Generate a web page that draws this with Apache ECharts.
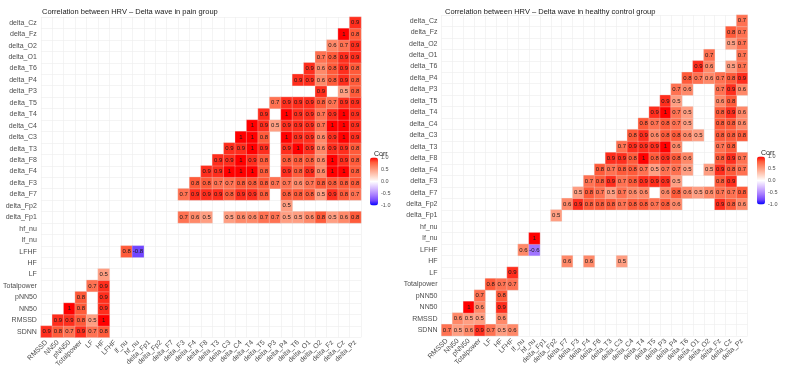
<!DOCTYPE html>
<html><head><meta charset="utf-8">
<script src="https://cdn.jsdelivr.net/npm/echarts@6/dist/echarts.min.js"></script>
<style>html,body{margin:0;padding:0;background:#fff}#c{width:787px;height:373px}</style>
</head><body><div id="c"></div>
<script>
// Variables in matrix order
const variables = ['SDNN','RMSSD','NN50','pNN50','Totalpower','LF','HF','LFHF','lf_nu','hf_nu',
  'delta_Fp1','delta_Fp2','delta_F7','delta_F3','delta_F4','delta_F8','delta_T3','delta_C3','delta_C4',
  'delta_T4','delta_T5','delta_P3','delta_P4','delta_T6','delta_O1','delta_O2','delta_Fz','delta_Cz','delta_Pz'];
const xLabels = variables.slice(1);      // columns
const yLabels = variables.slice(0, 28);  // rows

const titles = ['Correlation between HRV \u2013 Delta wave in pain group',
                'Correlation between HRV \u2013 Delta wave in healthy control group'];
const legendTicks = ['1.0', '0.5', '0.0', '-0.5', '-1.0'];

// Each row i lists correlations for columns starting at column i (null = not significant / blank)
const painRows = [
  [0.9,0.8,0.7,0.9,0.7,0.8],                         // SDNN
  [0.9,0.9,0.8,0.5,1],                               // RMSSD
  [1,0.8,null,0.9],                                  // NN50
  [0.8,null,0.9],                                    // pNN50
  [0.7,0.9],                                         // Totalpower
  [0.5],                                             // LF
  [],                                                // HF
  [0.8,-0.8],                                        // LFHF
  [],                                                // lf_nu
  [],                                                // hf_nu
  [null,null,0.7,0.6,0.5,null,0.5,0.6,0.6,0.7,0.7,0.5,0.5,0.6,0.8,0.5,0.6,0.8], // delta_Fp1
  [null,null,null,null,null,null,null,null,null,null,0.5],                     // delta_Fp2
  [0.7,0.9,0.9,0.9,0.8,0.9,0.9,0.8,null,0.8,0.8,0.8,0.5,0.9,0.8,0.7],           // delta_F7
  [0.8,0.8,0.7,0.7,0.8,0.8,0.8,0.7,0.7,0.6,0.7,0.8,0.8,0.8,0.8],               // delta_F3
  [0.9,0.9,1,1,1,0.8,null,0.9,0.8,0.9,0.6,1,1,0.8],                             // delta_F4
  [0.9,0.9,1,0.9,0.8,null,0.8,0.8,0.8,0.6,1,0.9,0.8],                           // delta_F8
  [0.9,0.9,1,0.9,null,0.9,1,0.9,0.6,0.9,0.9,0.8],                               // delta_T3
  [1,1,0.8,null,1,0.9,0.9,0.6,0.9,1,0.9],                                       // delta_C3
  [1,0.9,0.5,0.9,0.9,0.9,0.7,1,1,0.9],                                          // delta_C4
  [0.9,null,1,0.9,0.9,0.7,0.9,1,0.9],                                           // delta_T4
  [0.7,0.9,0.9,0.9,0.8,0.7,0.9,0.9],                                            // delta_T5
  [null,null,null,0.9,null,0.5,0.8],                                            // delta_P3
  [0.9,0.9,0.6,0.8,0.9,0.8],                                                    // delta_P4
  [0.9,0.6,0.8,0.9,0.8],                                                        // delta_T6
  [0.7,0.8,0.9,0.9],                                                            // delta_O1
  [0.6,0.7,0.9],                                                                // delta_O2
  [1,0.8],                                                                      // delta_Fz
  [0.9]                                                                         // delta_Cz
];

const healthyRows = [
  [0.7,0.5,0.6,0.9,0.7,0.5,0.6],                     // SDNN
  [0.6,0.5,0.5,null,0.6],                            // RMSSD
  [1,0.6,null,0.9],                                  // NN50
  [0.7,null,0.8],                                    // pNN50
  [0.8,0.7,0.7],                                     // Totalpower
  [null,0.9],                                        // LF
  [null,null,null,null,null,0.6,null,0.6,null,null,0.5], // HF
  [0.6,-0.6],                                        // LFHF
  [1],                                               // lf_nu
  [],                                                // hf_nu
  [0.5],                                             // delta_Fp1
  [0.6,0.9,0.8,0.8,0.8,0.7,0.8,0.8,0.7,0.8,0.6,null,null,null,0.9,0.8,0.6],     // delta_Fp2
  [0.5,0.8,0.7,0.5,0.7,0.6,0.6,null,0.6,0.8,0.6,0.5,0.6,0.7,0.7,0.8],           // delta_F7
  [0.7,0.8,0.9,0.7,0.8,0.9,0.9,0.9,0.5,null,null,null,0.8,0.9],                 // delta_F3
  [0.8,0.7,0.8,0.8,0.7,0.5,0.7,0.7,0.5,null,0.5,0.9,0.8,0.7],                   // delta_F4
  [0.9,0.9,0.8,1,0.8,0.9,0.8,0.6,null,null,0.8,0.9,0.7],                        // delta_F8
  [0.7,0.9,0.9,0.9,1,0.6,null,null,null,0.7,0.8],                               // delta_T3
  [0.8,0.9,0.6,0.8,0.8,0.6,0.5,null,0.8,0.8,0.8],                               // delta_C3
  [0.8,0.7,0.8,0.7,0.5,null,null,0.8,0.8,0.6],                                  // delta_C4
  [0.9,1,0.7,0.5,null,null,0.8,0.9,0.6],                                        // delta_T4
  [0.9,0.5,null,null,null,0.6,0.8],                                             // delta_T5
  [0.7,0.6,null,null,0.7,0.9,0.6],                                              // delta_P3
  [0.8,0.7,0.6,0.7,0.8,0.9],                                                    // delta_P4
  [0.9,0.6,null,0.5,0.7],                                                       // delta_T6
  [0.7,null,null,0.7],                                                          // delta_O1
  [null,0.5,0.7],                                                               // delta_O2
  [0.8,0.7],                                                                    // delta_Fz
  [0.7]                                                                         // delta_Cz
];

function toCells(rows) {
  const out = [];
  rows.forEach((row, i) => row.forEach((v, k) => { if (v !== null) out.push([i + k, i, v]); }));
  return out;
}

const FONT = '"Liberation Sans", Arial, sans-serif';
const corrColors = ['#0000FF','#7145FF','#A074FF','#C4A2FF','#E3D0FF','#FFFFFF',
                    '#FFD9CB','#FFB29A','#FF8969','#FF5B3A','#FF0000'];

const grids = [
  {left: 39, top: 17, width: 322, height: 320.4},
  {left: 441.5, top: 15, width: 306, height: 320.8}
];

function xAxisFor(idx) {
  return {
    type: 'category', gridIndex: idx, data: xLabels,
    axisLine: {show: false}, axisTick: {show: false},
    axisLabel: {interval: 0, rotate: 45, fontSize: 7, color: '#4d4d4d', margin: 4, fontFamily: FONT},
    splitLine: {show: true, lineStyle: {color: '#ececec', width: 0.6}}
  };
}
function yAxisFor(idx) {
  return {
    type: 'category', gridIndex: idx, data: yLabels,
    axisLine: {show: false}, axisTick: {show: false},
    axisLabel: {interval: 0, fontSize: 7, color: '#4d4d4d', margin: 4, fontFamily: FONT},
    splitLine: {show: true, lineStyle: {color: '#ececec', width: 0.6}}
  };
}
function seriesFor(idx, rows) {
  return {
    type: 'heatmap', xAxisIndex: idx, yAxisIndex: idx, data: toCells(rows),
    itemStyle: {borderColor: '#e6e6e6', borderWidth: 0.3},
    label: {show: true, fontSize: 6, color: '#1a1a1a', fontFamily: FONT,
            formatter: p => String(p.value[2])},
    emphasis: {disabled: true}
  };
}
function legendLabels(x, top) {
  return legendTicks.map((t, k) => ({
    type: 'text', left: x, top: top + k * 12 - 3.5,
    style: {text: t, fontSize: 5.5, fill: '#4d4d4d', fontFamily: FONT}
  }));
}

const chart = echarts.init(document.getElementById('c'), null, {renderer: 'canvas'});
chart.setOption({
  backgroundColor: '#ffffff',
  animation: false,
  title: [
    {text: titles[0], left: 37, top: 3, textStyle: {fontSize: 7.5, fontWeight: 'normal', color: '#1a1a1a', fontFamily: FONT}},
    {text: titles[1], left: 440, top: 3, textStyle: {fontSize: 7.5, fontWeight: 'normal', color: '#1a1a1a', fontFamily: FONT}},
    {text: 'Corr', left: 369, top: 146, textStyle: {fontSize: 7, fontWeight: 'normal', color: '#1a1a1a', fontFamily: FONT}},
    {text: 'Corr', left: 756, top: 145, textStyle: {fontSize: 7, fontWeight: 'normal', color: '#1a1a1a', fontFamily: FONT}}
  ],
  grid: grids,
  xAxis: [xAxisFor(0), xAxisFor(1)],
  yAxis: [yAxisFor(0), yAxisFor(1)],
  visualMap: [
    {type: 'continuous', min: -1, max: 1, seriesIndex: 0, calculable: false, orient: 'vertical',
     left: 370, top: 157.5, itemWidth: 8, itemHeight: 48, padding: 0, text: null,
     inRange: {color: corrColors}},
    {type: 'continuous', min: -1, max: 1, seriesIndex: 1, calculable: false, orient: 'vertical',
     left: 757, top: 156.5, itemWidth: 8, itemHeight: 48, padding: 0, text: null,
     inRange: {color: corrColors}}
  ],
  graphic: legendLabels(381, 157.7).concat(legendLabels(768, 156.7)),
  series: [seriesFor(0, painRows), seriesFor(1, healthyRows)]
});
</script>
</body></html>
